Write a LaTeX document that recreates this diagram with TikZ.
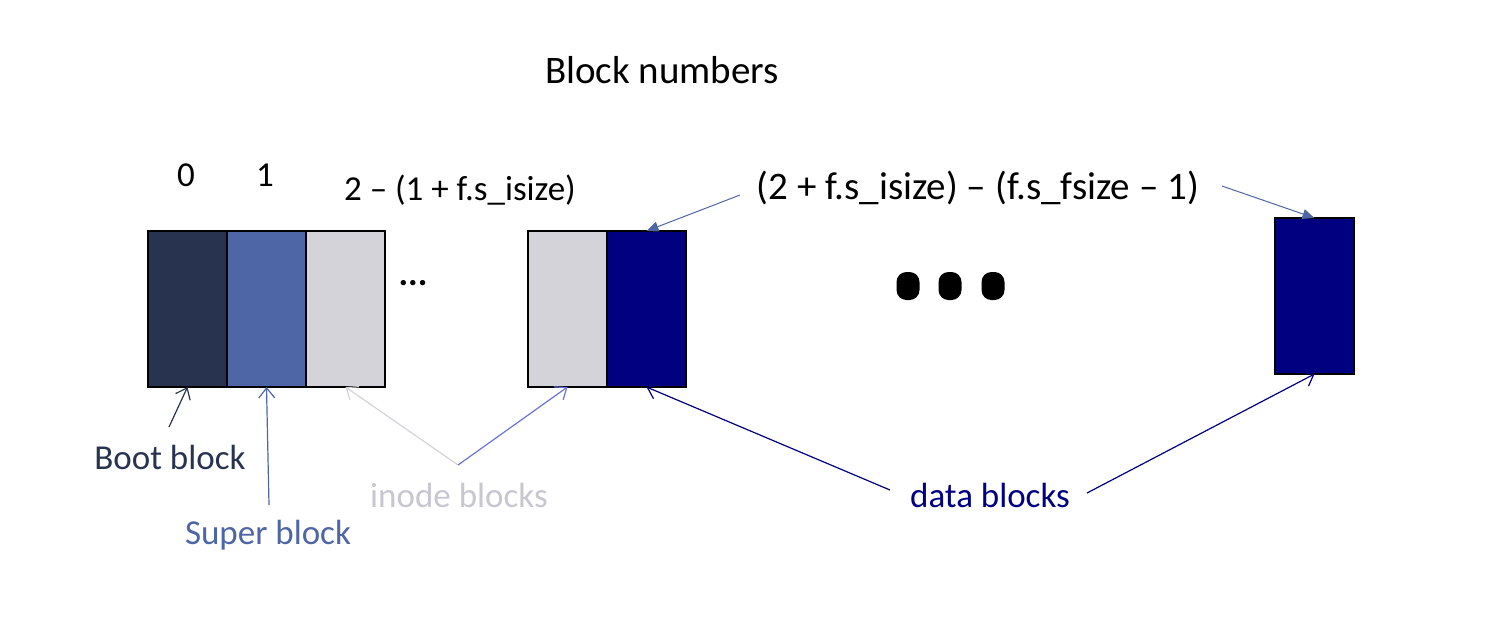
\documentclass[tikz,border=0pt]{standalone}
\usepackage{fontspec}
\setmainfont{Carlito}
\usepackage{xcolor}
\usepackage{tikz}
\usetikzlibrary{arrows.meta,positioning}

\definecolor{bootcol}{RGB}{40,51,80}
\definecolor{supercol}{RGB}{79,102,166}
\definecolor{inodecol}{RGB}{213,211,218}
\definecolor{inodetxt}{RGB}{200,198,206}
\definecolor{forkcol}{RGB}{106,115,214}
\definecolor{datacol}{RGB}{0,0,128}

\tikzset{
  blk/.style={draw=black, line width=0.7pt, minimum width=39.5pt, minimum height=78pt, inner sep=0pt, outer sep=0pt},
  lbl/.style={font=\fontsize{17.5}{20}\selectfont, inner sep=0pt},
  bigdot/.style={fill=black, rounded corners=5pt, minimum width=11.5pt, minimum height=14pt, inner sep=0pt},
  pointer/.style={-{Straight Barb[length=5pt,width=8pt]}, line width=0.6pt},
  tag/.style={-{Triangle[length=6pt,width=5pt]}, line width=0.5pt, supercol},
}

\begin{document}
\begin{tikzpicture}[x=0.5pt,y=-0.5pt]
\useasboundingbox (0,0) rectangle (1506,628);

% Title
\node[lbl, font=\fontsize{19.5}{22}\selectfont] (title) at (662,70) {Block numbers};

% Block numbers
\node[lbl] (n0) at (186,175) {0};
\node[lbl] (n1) at (265,175) {1};
\node[lbl] (rangeI) at (460,190) {2 – (1 + f.s\_isize)};
\node[lbl, font=\fontsize{19.5}{22}\selectfont] (rangeD) at (978,188) {(2 + f.s\_isize) – (f.s\_fsize – 1)};

% First group of blocks
\node[blk, fill=bootcol] (boot) at (187.5,309) {};
\node[blk, fill=supercol, right=0pt of boot] (super) {};
\node[blk, fill=inodecol, right=0pt of super] (inodeA) {};
\node[lbl, font=\fontsize{18}{20}\selectfont\bfseries] (gap) at (413,283) {...};

% Second group of blocks
\node[blk, fill=inodecol] (inodeB) at (567.5,309) {};
\node[blk, fill=datacol, right=0pt of inodeB] (dataA) {};

% Big dots
\node[bigdot] (dotA) at (908,286) {};
\node[bigdot] (dotB) at (950,286) {};
\node[bigdot] (dotC) at (993,286) {};

% Last data block
\node[blk, fill=datacol] (dataB) at (1314.5,296) {};

% Labels below
\node[lbl, text=bootcol] (bootlbl) at (170,457) {Boot block};
\node[lbl, text=supercol] (superlbl) at (268,535) {Super block};
\node[lbl, text=inodetxt] (inodelbl) at (459,495) {inode blocks};
\node[lbl, text=datacol] (datalbl) at (990,495) {data blocks};

% Free ends
\coordinate (bootfrom) at (169,427);
\coordinate (superfrom) at (269,505);
\coordinate (fork) at (458,465);
\coordinate (dfromL) at (890,490);
\coordinate (dfromR) at (1087,493);
\coordinate (tagL) at (740,195);
\coordinate (tagR) at (1222,186);

% Arrows
\draw[pointer, bootcol] (bootfrom) -- (boot.south);
\draw[pointer, supercol] (superfrom) -- (super.south);
\draw[pointer, inodecol] (fork) -- (inodeA.south);
\draw[pointer, forkcol] (fork) -- (inodeB.south);
\draw[pointer, datacol] (dfromL) -- (dataA.south);
\draw[pointer, datacol] (dfromR) -- (dataB.south);
\draw[tag] (tagL) -- (dataA.north);
\draw[tag] (tagR) -- (dataB.north);

\end{tikzpicture}
\end{document}
